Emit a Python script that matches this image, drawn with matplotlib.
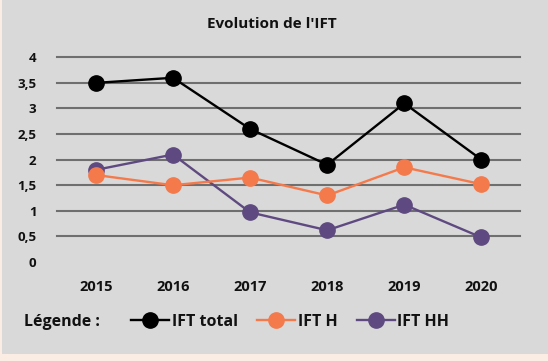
import matplotlib
matplotlib.use("Agg")
import matplotlib.pyplot as plt
from matplotlib.lines import Line2D
from matplotlib.patches import Rectangle
from matplotlib.ticker import FuncFormatter

plt.rcParams['font.family'] = ['Open Sans', 'DejaVu Sans']

years = ["2015", "2016", "2017", "2018", "2019", "2020"]
ift_total = [3.5, 3.6, 2.6, 1.9, 3.1, 2.0]
ift_h = [1.7, 1.5, 1.65, 1.3, 1.85, 1.52]
ift_hh = [1.8, 2.1, 0.97, 0.62, 1.12, 0.48]
yticks = [0, 0.5, 1, 1.5, 2, 2.5, 3, 3.5, 4]

c_total = "#000000"
c_h = "#f47a4b"
c_hh = "#5e4a80"
W, H = 548, 361

fig = plt.figure(figsize=(W / 100, H / 100), dpi=100)
fig.patch.set_facecolor("#fbede4")
# gray panel behind the chart
fig.patches.append(Rectangle((2 / W, 1 - 354 / H), 1 - 2 / W, 354 / H,
                             transform=fig.transFigure, facecolor="#d9d9d9",
                             edgecolor="none", zorder=-10))

ax = fig.add_axes([57.3 / W, 1 - 262 / H, (520 - 57.3) / W, (262 - 57.3) / H])
ax.set_facecolor("none")
ax.set_zorder(1)

x = list(range(len(years)))
ax.plot(x, ift_total, color=c_total, lw=1.7, marker="o", ms=11, zorder=5)
ax.plot(x, ift_h, color=c_h, lw=1.7, marker="o", ms=11, zorder=4)
ax.plot(x, ift_hh, color=c_hh, lw=1.7, marker="o", ms=11, zorder=3)

ax.set_xlim(-0.5, len(years) - 0.5)
ax.set_ylim(0, 4)
ax.set_yticks(yticks)
ax.yaxis.set_major_formatter(FuncFormatter(lambda v, p: f"{v:g}".replace(".", ",")))
ax.set_xticks(x)
ax.set_xticklabels(years)
ax.tick_params(axis="y", length=0, pad=15, labelsize=9.5, labelcolor="#111111")
ax.tick_params(axis="x", length=0, pad=13, labelsize=10.5, labelcolor="#111111")
for lab in ax.get_xticklabels() + ax.get_yticklabels():
    lab.set_fontweight("bold")

ax.grid(axis="y", color="#6f6f6f", lw=1.5)
ax.grid(axis="x", visible=False)
for i, gl in enumerate(ax.yaxis.get_gridlines()):
    gl.set_clip_on(False)
    if i == 0:
        gl.set_visible(False)
ax.set_axisbelow(True)
for s in ax.spines.values():
    s.set_visible(False)

fig.text(272 / W, 1 - 23.5 / H, "Evolution de l'IFT", ha="center", va="center",
         fontsize=11, fontweight="bold", color="#111111")

fig.text(24 / W, 1 - 321.7 / H, "Légende :", ha="left", va="center",
         fontsize=11.5, fontweight="bold", color="#111111")
handles = [
    Line2D([], [], color=c_total, lw=1.7, marker="o", ms=11),
    Line2D([], [], color=c_h, lw=1.7, marker="o", ms=11),
    Line2D([], [], color=c_hh, lw=1.7, marker="o", ms=11),
]
leg = fig.legend(handles, ["IFT total", "IFT H", "IFT HH"], ncol=3,
                 loc="center left", bbox_to_anchor=(131 / W, 1 - 321.7 / H),
                 frameon=False, borderpad=0, borderaxespad=0,
                 handlelength=2.4, handletextpad=0.15, columnspacing=1.2,
                 prop={"size": 11.5, "weight": "bold"})
for t in leg.get_texts():
    t.set_color("#111111")

fig.savefig("out.png", dpi=100, facecolor=fig.get_facecolor())
